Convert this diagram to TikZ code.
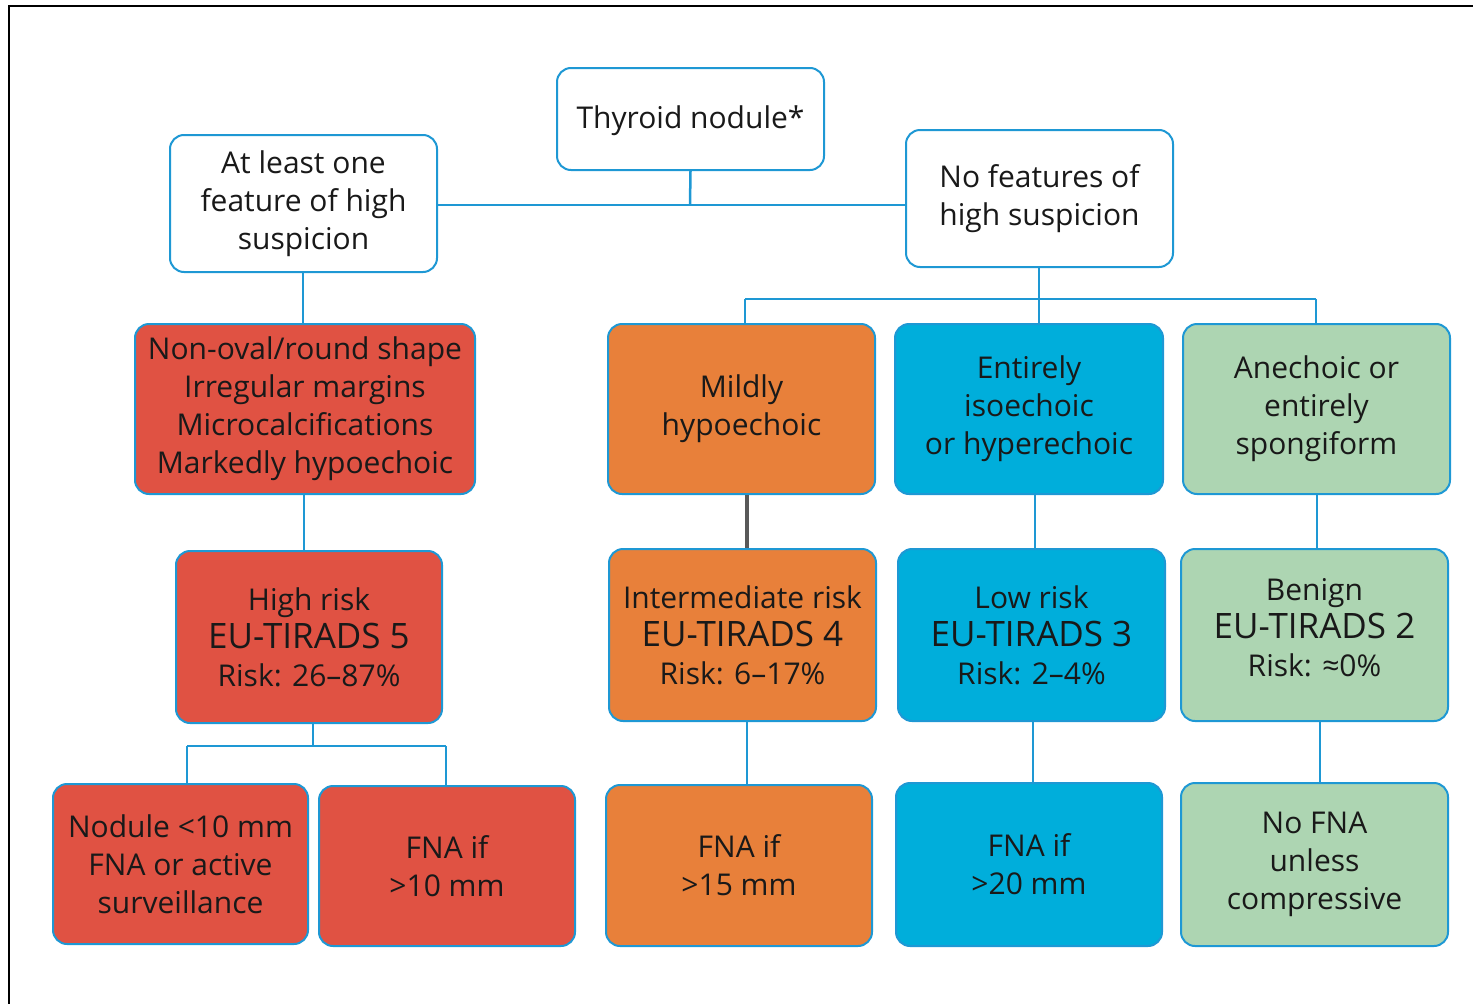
\documentclass[tikz,border=0pt]{standalone}
\usepackage{fontspec}
\setmainfont{Open Sans}
\definecolor{bord}{RGB}{30,152,212}
\definecolor{cred}{RGB}{224,82,67}
\definecolor{corange}{RGB}{232,128,58}
\definecolor{cblue}{RGB}{0,174,219}
\definecolor{cgreen}{RGB}{173,213,178}
\definecolor{ctext}{RGB}{25,25,25}
\begin{document}
\begin{tikzpicture}[x=1pt,y=-1pt,
  box/.style={draw=bord, line width=2pt, rounded corners=14pt, align=center, text=ctext,
    font=\fontsize{30}{38}\selectfont, inner sep=0pt},
  plain/.style={align=center, text=ctext, font=\fontsize{30}{38}\selectfont, inner sep=0pt},
  conn/.style={draw=bord, line width=2.5pt}]
\useasboundingbox (0,0) rectangle (1473,1004);
\draw[line width=2pt] (9,1004) -- (9,6) -- (1473,6);
% top row
\node[box, fill=white, minimum width=267pt, minimum height=102pt] (top) at (690.5,119) {};
\node[plain] (topt) at (690.5,121) {Thyroid nodule*};
\node[box, fill=white, minimum width=267pt, minimum height=137pt] (hi) at (303.5,203.5) {At least one\\feature of high\\suspicion};
\node[box, fill=white, minimum width=267pt, minimum height=137pt] (no) at (1039.5,198.5) {No features of\\high suspicion};
% row 2
\node[box, fill=cred, minimum width=340pt, minimum height=170pt] (r2a) at (305,409) {Non-oval/round shape\\Irregular margins\\Microcalcifications\\Markedly hypoechoic};
\node[box, fill=corange, minimum width=267pt, minimum height=170pt] (r2b) at (741.5,409) {Mildly\\hypoechoic};
\node[box, fill=cblue, minimum width=268pt, minimum height=170pt] (r2c) at (1029,409) {Entirely\\isoechoic\\or hyperechoic};
\node[box, fill=cgreen, minimum width=267pt, minimum height=170pt] (r2d) at (1316.5,409) {Anechoic or\\entirely\\spongiform};
% row 3
\node[box, fill=cred, minimum width=266pt, minimum height=172pt] (r3a) at (309,637) {High risk\\{\fontsize{35}{38}\selectfont EU-TIRADS 5}\\Risk: 26–87\%};
\node[box, fill=corange, minimum width=267pt, minimum height=172pt] (r3b) at (742.5,635) {Intermediate risk\\{\fontsize{35}{38}\selectfont EU-TIRADS 4}\\Risk: 6–17\%};
\node[box, fill=cblue, minimum width=267pt, minimum height=172pt] (r3c) at (1031.5,635) {Low risk\\{\fontsize{35}{38}\selectfont EU-TIRADS 3}\\Risk: 2–4\%};
\node[box, fill=cgreen, minimum width=267pt, minimum height=172pt] (r3d) at (1314.5,635) {};
\node[plain] (r3dt) at (1314.5,628) {Benign\\{\fontsize{35}{38}\selectfont EU-TIRADS 2}\\Risk: ≈0\%};
% row 4
\node[box, fill=cred, minimum width=255pt, minimum height=160pt] (r4a) at (180.5,864) {Nodule <10 mm\\FNA or active\\surveillance};
\node[box, fill=cred, minimum width=256pt, minimum height=160pt] (r4b) at (447,866) {FNA if\\>10 mm};
\node[box, fill=corange, minimum width=266pt, minimum height=161pt] (r4c) at (739,865.5) {FNA if\\>15 mm};
\node[box, fill=cblue, minimum width=266pt, minimum height=163pt] (r4d) at (1029,864.5) {FNA if\\>20 mm};
\node[box, fill=cgreen, minimum width=267pt, minimum height=163pt] (r4e) at (1314.5,864.5) {No FNA\\unless\\compressive};
% connectors
\coordinate (j1) at (690,205);
\draw[conn] (top.south) -- (j1);
\draw[conn] (hi.east |- j1) -- (no.west |- j1);
\draw[conn] (hi.south -| 303,0) -- (r2a.north -| 303,0);
\coordinate (j2) at (1039,299);
\draw[conn] (no.south -| 1039,0) -- (j2);
\draw[conn] (745,299) -- (1316,299);
\draw[conn] (745,299) -- (r2b.north -| 745,0);
\draw[conn] (j2) -- (r2c.north -| 1039,0);
\draw[conn] (1316,299) -- (r2d.north -| 1316,0);
\draw[conn] (r2a.south -| 304,0) -- (r3a.north -| 304,0);
\draw[draw=black!65, line width=4pt] (r2b.south -| 747,0) -- (r3b.north -| 747,0);
\draw[conn] (r2c.south -| 1035,0) -- (r3c.north -| 1035,0);
\draw[conn] (r2d.south -| 1317,0) -- (r3d.north -| 1317,0);
\coordinate (j3) at (313,746);
\draw[conn] (r3a.south -| 313,0) -- (j3);
\draw[conn] (187,746) -- (446,746);
\draw[conn] (187,746) -- (r4a.north -| 187,0);
\draw[conn] (446,746) -- (r4b.north -| 446,0);
\draw[conn] (r3b.south -| 747,0) -- (r4c.north -| 747,0);
\draw[conn] (r3c.south -| 1033,0) -- (r4d.north -| 1033,0);
\draw[conn] (r3d.south -| 1320,0) -- (r4e.north -| 1320,0);
\end{tikzpicture}
\end{document}
